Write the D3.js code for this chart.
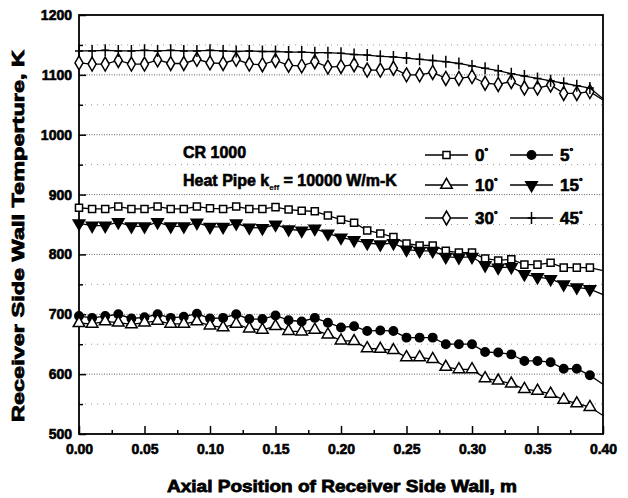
<!DOCTYPE html>
<html>
<head>
<meta charset="utf-8">
<script src="https://cdn.jsdelivr.net/npm/d3@7"></script>
<style>
  body { margin: 0; background: #fff; }
  text { font-family: "Liberation Sans", Arial, sans-serif; font-weight: bold; fill: #000; }
</style>
</head>
<body>
<div id="chart"></div>
<script>

// axial positions of the markers (m), and where the curves end
var xs = [0.00, 0.01, 0.02, 0.03, 0.04, 0.05, 0.06, 0.07, 0.08, 0.09,
          0.10, 0.11, 0.12, 0.13, 0.14, 0.15, 0.16, 0.17, 0.18, 0.19,
          0.20, 0.21, 0.22, 0.23, 0.24, 0.25, 0.26, 0.27, 0.28, 0.29,
          0.30, 0.31, 0.32, 0.33, 0.34, 0.35, 0.36, 0.37, 0.38, 0.39];
var xEnd = 0.40;

// wall temperature (K) for each tilt angle
var t0  = [878, 876, 876, 880, 876, 876, 880, 876, 876, 880,
           877, 876, 880, 876, 876, 879, 875, 873, 872, 865,
           858, 853, 840, 835, 829, 818, 815, 815, 806, 803,
           803, 793, 790, 792, 783, 783, 786, 778, 778, 778];
var t5  = [697, 694, 697, 700, 693, 695, 700, 694, 696, 701,
           693, 694, 700, 692, 692, 698, 690, 688, 694, 686,
           678, 680, 672, 673, 672, 661, 661, 661, 650, 650,
           650, 637, 636, 633, 622, 622, 620, 609, 609, 598];
var t10 = [685, 684, 688, 686, 683, 686, 689, 684, 684, 688,
           681, 678, 684, 676, 674, 680, 672, 671, 674, 666,
           656, 655, 643, 642, 640, 628, 628, 625, 612, 608,
           608, 593, 589, 584, 575, 572, 567, 557, 551, 545];
var t15 = [852, 848, 848, 854, 847, 847, 854, 847, 847, 853,
           846, 846, 852, 845, 844, 850, 842, 840, 843, 835,
           828, 824, 819, 817, 819, 808, 806, 806, 796, 795,
           796, 782, 778, 779, 767, 762, 759, 750, 745, 742];
var t30 = [1120, 1118, 1118, 1124, 1118, 1118, 1125, 1119, 1119, 1126,
           1120, 1119, 1126, 1118, 1117, 1124, 1116, 1115, 1122, 1113,
           1114, 1117, 1108, 1108, 1111, 1100, 1100, 1104, 1094, 1094,
           1097, 1086, 1084, 1089, 1078, 1078, 1083, 1069, 1069, 1072];
var t45 = [1140, 1140, 1141, 1140, 1140, 1141, 1140, 1141, 1140, 1140,
           1141, 1140, 1139, 1140, 1139, 1139, 1138, 1138, 1137, 1137,
           1136, 1134, 1133, 1131, 1130, 1128, 1126, 1124, 1122, 1119,
           1115, 1111, 1107, 1102, 1098, 1094, 1090, 1086, 1082, 1078];
var tEnd = [773, 583, 531, 733, 1058, 1060];

var angles  = ["0", "5", "10", "15", "30", "45"];
var markers = ["square", "circle", "triangleUp", "triangleDown", "diamond", "plus"];
var yTicks  = [500, 600, 700, 800, 900, 1000, 1100, 1200];
var xTicks  = [0.00, 0.05, 0.10, 0.15, 0.20, 0.25, 0.30, 0.35, 0.40];

var series = [t0, t5, t10, t15, t30, t45].map(function(vals, i) {
    var pts = xs.map(function(x, j) { return { x: x, y: vals[j] }; });
    return { angle: angles[i], marker: markers[i], points: pts,
             line: pts.concat([{ x: xEnd, y: tEnd[i] }]) };
});

/* layout */
var width = 628, height = 498;
var padL = 79, padR = 603, padT = 15, padB = 434;

var svg = d3.select("#chart").append("svg")
    .attr("width", width)
    .attr("height", height);

var x = d3.scaleLinear().domain([0, 0.4]).range([padL, padR]);
var y = d3.scaleLinear().domain([500, 1200]).range([padB, padT]);

/* dotted grid every 50 K */
var grid = d3.range(550, 1200, 50);
svg.append("g")
    .selectAll("line")
    .data(grid)
    .enter().append("line")
        .attr("x1", padL).attr("x2", padR)
        .attr("y1", function(d) { return y(d); })
        .attr("y2", function(d) { return y(d); })
        .attr("stroke", function(d) { return d % 100 == 0 ? "#666" : "#999"; })
        .attr("stroke-width", 1)
        .attr("stroke-dasharray", function(d) { return d % 100 == 0 ? "1,1.5" : "1,5"; });

/* axes, ticks pointing inward */
svg.append("g")
    .attr("transform", "translate(" + padL + ",0)")
    .call(d3.axisLeft(y).tickValues(yTicks).tickSize(-7).tickPadding(7).tickFormat(d3.format("d")));
svg.append("g")
    .attr("transform", "translate(" + padL + ",0)")
    .call(d3.axisLeft(y).tickValues(d3.range(550, 1200, 100)).tickSize(-4).tickFormat(""));

svg.append("g")
    .attr("transform", "translate(0," + padB + ")")
    .call(d3.axisBottom(x).tickValues(xTicks).tickSize(-8).tickPadding(10).tickFormat(d3.format(".2f")));
svg.append("g")
    .attr("transform", "translate(0," + padB + ")")
    .call(d3.axisBottom(x).tickValues(d3.range(0.025, 0.4, 0.05)).tickSize(-4).tickFormat(""));

svg.selectAll(".domain").remove();
svg.selectAll(".tick line").attr("stroke", "#000").attr("stroke-width", 1.5);
svg.selectAll(".tick text")
    .style("font-size", "14px")
    .style("font-weight", "bold")
    .style("font-family", "'Liberation Sans', Arial, sans-serif")
    .attr("stroke", "#000").attr("stroke-width", 0.6);

/* frame */
svg.append("rect")
    .attr("x", padL).attr("y", padT)
    .attr("width", padR - padL).attr("height", padB - padT)
    .attr("fill", "none")
    .attr("stroke", "#000")
    .attr("stroke-width", 1.8);

/* markers */
function symbolPath(m) {
    if (m == "square") return d3.symbol(d3.symbolSquare, 50)();
    if (m == "circle") return d3.symbol(d3.symbolCircle, 56)();
    if (m == "triangleUp" || m == "triangleDown") return d3.symbol(d3.symbolTriangle, 58)();
    if (m == "diamond") return d3.symbol(d3.symbolDiamond, 56)();
    return "M0,-6V6M-4,0H4";
}
function isFilled(m) { return m == "circle" || m == "triangleDown"; }
function rot(m) { return m == "triangleDown" ? " rotate(180)" : ""; }

var line = d3.line()
    .x(function(d) { return x(d.x); })
    .y(function(d) { return y(d.y); });

var g = svg.append("g").selectAll("g")
    .data(series)
    .enter().append("g");

g.append("path")
    .attr("d", function(d) { return line(d.line); })
    .attr("fill", "none")
    .attr("stroke", "#000")
    .attr("stroke-width", 1.3);

g.each(function(s) {
    d3.select(this).selectAll(".mk")
        .data(s.points)
        .enter().append("path")
            .attr("class", "mk")
            .attr("d", symbolPath(s.marker))
            .attr("transform", function(d) {
                return "translate(" + x(d.x) + "," + y(d.y) + ")" + rot(s.marker);
            })
            .attr("fill", isFilled(s.marker) ? "#000" : (s.marker == "plus" ? "none" : "#fff"))
            .attr("stroke", "#000")
            .attr("stroke-width", 1.5);
});

/* annotation */
svg.append("text")
    .attr("x", 183).attr("y", 158)
    .style("font-size", "16px")
    .attr("stroke", "#000").attr("stroke-width", 0.6)
    .text("CR 1000");

var note = svg.append("text")
    .attr("x", 183).attr("y", 186)
    .style("font-size", "16px")
    .attr("stroke", "#000").attr("stroke-width", 0.6);
note.append("tspan").text("Heat Pipe k");
note.append("tspan").attr("dy", 4).style("font-size", "8px").attr("stroke-width", 0.2).text("eff");
note.append("tspan").attr("dy", -4).text(" = 10000 W/m-K");

/* legend */
var legendPos = [[425, 155], [510, 155], [425, 185], [510, 185], [425, 218], [510, 218]];
var lg = svg.append("g").selectAll("g")
    .data(series)
    .enter().append("g")
        .attr("transform", function(d, i) { return "translate(" + legendPos[i][0] + "," + legendPos[i][1] + ")"; });

lg.append("line")
    .attr("x1", 0).attr("x2", 43)
    .attr("stroke", "#000").attr("stroke-width", 1.3);
lg.append("path")
    .attr("d", function(d) { return symbolPath(d.marker); })
    .attr("transform", function(d) { return "translate(21.5,0)" + rot(d.marker); })
    .attr("fill", function(d) { return isFilled(d.marker) ? "#000" : (d.marker == "plus" ? "none" : "#fff"); })
    .attr("stroke", "#000").attr("stroke-width", 1.5);
var lt = lg.append("text")
    .attr("x", 50).attr("y", 6)
    .style("font-size", "17px")
    .attr("stroke", "#000").attr("stroke-width", 0.6);
lt.append("tspan").text(function(d) { return d.angle; });
lt.append("tspan").attr("dy", -7).style("font-size", "9px").text("°");

/* axis titles */
svg.append("text")
    .attr("x", 342).attr("y", 492)
    .attr("text-anchor", "middle")
    .attr("textLength", 350).attr("lengthAdjust", "spacingAndGlyphs")
    .style("font-size", "17px")
    .attr("stroke", "#000").attr("stroke-width", 0.8)
    .text("Axial Position of Receiver Side Wall, m");

svg.append("text")
    .attr("transform", "translate(24,236) rotate(-90)")
    .attr("text-anchor", "middle")
    .attr("textLength", 372).attr("lengthAdjust", "spacingAndGlyphs")
    .style("font-size", "17px")
    .attr("stroke", "#000").attr("stroke-width", 0.8)
    .text("Receiver Side Wall Temperture, K");

</script>
</body>
</html>
